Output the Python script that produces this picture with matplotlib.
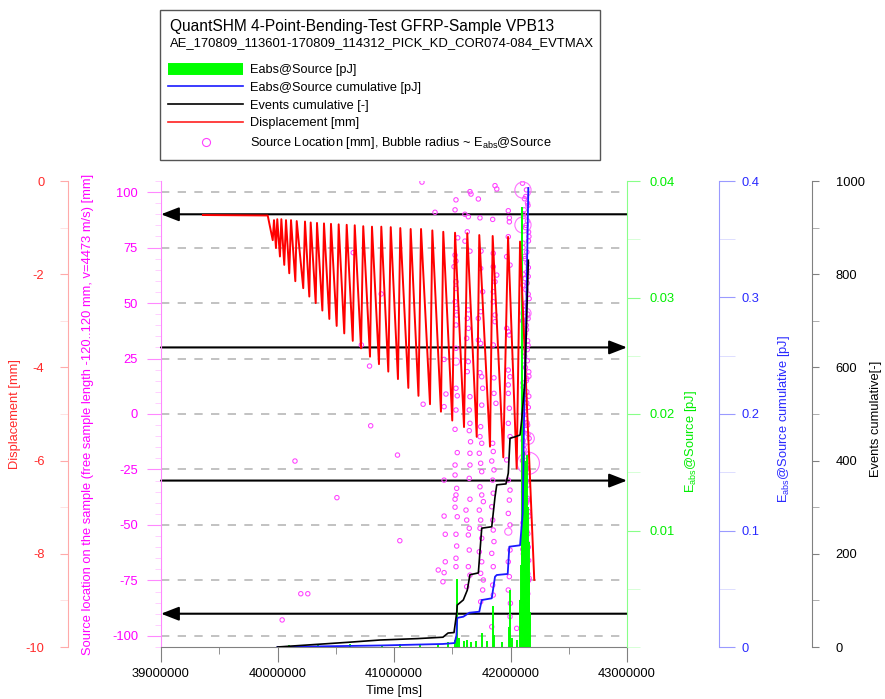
import numpy as np
import matplotlib
matplotlib.use("Agg")
import matplotlib.pyplot as plt
from matplotlib.lines import Line2D
from matplotlib.patches import Rectangle
from matplotlib.ticker import MultipleLocator, FormatStrFormatter, FuncFormatter

plt.rcParams["font.family"] = ["Liberation Sans", "DejaVu Sans"]
plt.rcParams["mathtext.fontset"] = "custom"
plt.rcParams["mathtext.rm"] = "Liberation Sans"
plt.rcParams["mathtext.it"] = "Liberation Sans:italic"
plt.rcParams["axes.unicode_minus"] = False

# --- data (time in 1e6 ms) ---
# displacement [mm], sawtooth load cycles
disp_t = [39.360, 39.916,
          39.959, 39.970, 39.987, 39.998, 40.021, 40.033, 40.058, 40.073, 40.101, 40.116,
          40.153, 40.165, 40.221, 40.236, 40.273, 40.285, 40.328, 40.339, 40.385, 40.399,
          40.445, 40.459, 40.508, 40.525, 40.573, 40.594, 40.646, 40.663, 40.717, 40.736,
          40.794, 40.811, 40.871, 40.891, 40.951, 40.972, 41.034, 41.054, 41.123, 41.143,
          41.210, 41.232, 41.309, 41.329, 41.403, 41.423, 41.500, 41.524, 41.601, 41.629,
          41.710, 41.732, 41.824, 41.847, 41.938, 41.979, 42.053, 42.082,
          42.204]
disp_mm = [-0.73, -0.74,
           -1.27, -0.84, -1.44, -0.82, -1.62, -0.82, -1.80, -0.84, -1.98, -0.84,
           -2.15, -0.86, -2.30, -0.87, -2.48, -0.89, -2.62, -0.90, -2.78, -0.91,
           -2.96, -0.92, -3.11, -0.93, -3.27, -0.94, -3.43, -0.95, -3.59, -0.97,
           -3.77, -0.98, -3.93, -0.98, -4.09, -0.99, -4.25, -1.01, -4.44, -1.03,
           -4.61, -1.03, -4.79, -1.06, -4.95, -1.09, -5.14, -1.11, -5.28, -1.12,
           -5.49, -1.16, -5.70, -1.18, -5.93, -1.20, -6.17, -1.30,
           -8.56]

# events cumulative [-]
ev_t = [40.00, 40.30, 40.60, 40.88, 41.20, 41.42, 41.464, 41.515, 41.538, 41.543,
        41.595, 41.629, 41.652, 41.724, 41.753, 41.839, 41.867, 41.882, 41.961, 41.981,
        41.996, 42.039, 42.082, 42.096, 42.124, 42.153]
ev_n = [0, 5, 10, 15, 18, 21, 30, 31, 73, 90,
        101, 122, 155, 159, 255, 258, 322, 348, 350, 373,
        448, 451, 455, 487, 573, 830]

# Eabs@Source cumulative [pJ]
ecum_t = [40.00, 40.88, 41.42, 41.52, 41.536, 41.543, 41.595, 41.646, 41.732, 41.753,
          41.839, 41.867, 41.882, 41.976, 41.990, 42.082, 42.105, 42.116, 42.133, 42.153]
ecum_pj = [0.0, 0.0013, 0.0026, 0.0034, 0.010, 0.025, 0.026, 0.0294, 0.0303, 0.0403,
           0.0418, 0.0603, 0.0618, 0.0627, 0.0861, 0.0873, 0.115, 0.195, 0.272, 0.394]

# Eabs@Source per event [pJ]
eabs_t = [40.10, 40.35, 40.62, 40.90, 41.05, 41.22, 41.38, 41.46, 41.52, 41.537,
          41.545, 41.56, 41.60, 41.63, 41.66, 41.70, 41.753, 41.80, 41.85, 41.86,
          41.93, 41.985, 41.996, 42.01, 42.06, 42.085, 42.092, 42.098, 42.103, 42.108,
          42.112, 42.118, 42.122, 42.127, 42.131, 42.136, 42.141, 42.146, 42.150, 42.155,
          42.160, 42.165]
eabs_pj = [0.0002, 0.0002, 0.0003, 0.0002, 0.0003, 0.0002, 0.0003, 0.0004, 0.0006, 0.0058,
           0.0012, 0.0008, 0.0005, 0.0006, 0.0004, 0.0005, 0.0012, 0.0005, 0.0035, 0.0010,
           0.0004, 0.0017, 0.0049, 0.0008, 0.0006, 0.0040, 0.0070, 0.0110, 0.0378, 0.0095,
           0.0150, 0.0167, 0.0120, 0.0160, 0.0100, 0.0140, 0.0165, 0.0085, 0.0120, 0.0060,
           0.0090, 0.0030]

# source locations [mm] (small bubbles)
src_t = [41.24, 41.352, 40.65, 40.89, 40.72, 40.79, 40.80, 40.15, 41.03, 41.43,
         41.446, 41.25, 41.43, 41.43, 40.51, 41.05, 41.43, 41.44, 41.44, 41.38,
         41.43, 41.42, 40.20, 40.26, 40.04,
         41.532, 41.524, 41.524, 41.532, 41.515, 41.532, 41.532, 41.524, 41.538, 41.538,
         41.532, 41.532, 41.532, 41.543, 41.532, 41.524, 41.543, 41.524, 41.524,
         41.538, 41.532, 41.524, 41.524, 41.543, 41.532, 41.538, 41.532, 41.532, 41.547,
         41.652, 41.661, 41.609, 41.638, 41.629, 41.609, 41.652, 41.638, 41.629, 41.638,
         41.624, 41.638, 41.629, 41.652, 41.646, 41.652, 41.646, 41.657, 41.652, 41.652,
         41.646, 41.652, 41.618, 41.624, 41.646, 41.638, 41.646, 41.638, 41.652, 41.624,
         41.724, 41.738, 41.747, 41.744, 41.761, 41.744, 41.724, 41.724, 41.744, 41.738,
         41.753, 41.761, 41.753, 41.744, 41.738, 41.753, 41.732, 41.744, 41.753, 41.738,
         41.753, 41.767, 41.732, 41.744, 41.738, 41.753, 41.732, 41.753, 41.744, 41.767,
         41.761, 41.744,
         41.867, 41.882, 41.847, 41.852, 41.852, 41.882, 41.867, 41.852, 41.852, 41.867,
         41.867, 41.852, 41.858, 41.858, 41.875, 41.847, 41.852, 41.839, 41.858, 41.847,
         41.852, 41.839, 41.847, 41.852, 41.858, 41.839, 41.852, 41.847, 41.852, 41.839,
         41.981, 41.990, 41.990, 41.981, 41.967, 41.996, 41.981, 41.990, 41.967, 41.981,
         41.996, 41.981, 41.981, 41.990, 41.981, 41.996, 41.967, 41.981, 41.996, 41.990,
         41.981, 41.996, 41.996, 41.981, 41.990, 41.981, 41.999, 41.996, 42.053,
         42.103, 42.137, 42.120, 42.150, 42.112, 42.145, 42.128, 42.158, 42.107, 42.140,
         42.124, 42.153, 42.110, 42.143, 42.132, 42.160, 42.116, 42.148, 42.103, 42.137,
         42.120, 42.150, 42.112, 42.145, 42.128, 42.158, 42.107, 42.140, 42.124, 42.153,
         42.110, 42.143, 42.132, 42.160, 42.116, 42.148, 42.103, 42.137, 42.120, 42.150,
         42.112, 42.145, 42.128, 42.158, 42.107, 42.140, 42.124, 42.153, 42.110, 42.143,
         42.132, 42.160, 42.116, 42.148, 42.103, 42.137, 42.120, 42.150, 42.112, 42.145,
         42.131, 42.118, 42.155, 42.108, 42.141, 42.126, 42.152, 42.114, 42.135, 42.147,
         42.122, 42.157, 42.109, 42.139, 42.129, 42.150, 42.117, 42.144, 42.134, 42.121,
         42.156, 42.111, 42.142, 42.127, 42.149, 42.115, 42.138, 42.125,
         42.146, 42.113, 42.133, 42.154, 42.119, 42.141, 42.106, 42.130, 42.151, 42.124,
         42.144, 42.115, 42.136, 42.157, 42.121, 42.147, 42.109, 42.132, 42.153, 42.127,
         42.139, 42.118, 42.149, 42.105, 42.134, 42.155, 42.123, 42.143, 42.112, 42.131,
         42.152, 42.119, 42.140, 42.108, 42.136, 42.146, 42.125, 42.156, 42.114, 42.133]
src_loc = [104.5, 90.9, 72.7, 54.1, 31.1, 21.6, -5.3, -21.2, -18.5, 24.6,
           9.0, 4.4, 3.3, -29.8, -37.7, -57.1, -46.0, -54.2, -66.6, -70.3,
           -71.5, -75.6, -81.0, -81.0, -92.8,
           96.5, 92.0, 71.6, 68.9, 66.4, 59.6, 56.6, 50.6, 47.6, 44.6,
           40.1, 29.6, 11.6, 8.2, 1.8, -6.9, -17.4, -23.0, -27.5,
           -33.5, -36.5, -38.4, -42.0, -46.3, -54.2, -59.5, -65.0, -68.8, 79.4,
           100.2, 99.1, 90.0, 88.9, 82.1, 77.9, 73.4, 46.9, 43.1, 38.6,
           34.1, 23.6, 19.1, 7.8, 1.8, -4.2, -7.5, -12.5, -17.7, -23.0,
           -29.0, -38.4, -43.3, -47.8, -51.5, -54.5, -61.3, -68.8, -72.6, -77.8,
           96.9, 88.4, 73.4, 65.6, 55.1, 46.1, 43.1, 33.3, 31.8, 18.6,
           16.8, 11.6, 4.0, -5.7, -10.2, -13.2, -17.7, -22.2, -26.0, -32.8,
           -36.5, -39.5, -43.3, -47.8, -51.5, -56.0, -62.1, -66.6, -71.8, -74.8,
           -79.3, -84.6,
           102.9, 101.4, 87.7, 72.4, 66.4, 62.6, 59.6, 55.1, 50.6, 44.6,
           41.6, 31.1, 16.3, 9.3, 4.8, -13.2, -16.9, -21.2, -25.2, -29.8,
           -35.7, -41.8, -47.8, -52.3, -57.5, -62.8, -68.8, -77.1, -81.6, -95.9,
           91.6, 88.4, 86.6, 79.9, 70.9, 67.1, 37.1, 35.6, 38.6, 19.8,
           16.8, 13.1, 9.3, 2.6, -4.2, -10.2, -20.7, -29.8, -34.3, -38.8,
           -44.8, -50.0, -61.3, -66.6, -73.3, -79.3, -85.3, -91.3, -96.6,
           104, 101, 97, 94, 90, 87, 84, 80, 77, 73,
           70, 66, 63, 59, 56, 52, 49, 45, 42, 38,
           35, 31, 28, 24, 21, 17, 14, 10, 7, 3,
           0, -4, -7, -11, -14, -18, -21, -25, -28, -32,
           -35, -39, -42, -46, -49, -53, -56, -60, -63, -67,
           -70, -74, -77, -81, -84, -88, -91, -95, -98, -101,
           98, 92, 82, 75, 68, 61, 54, 47, 40, 33,
           26, 19, 12, 5, -2, -9, -16, -23, -30, -37,
           -44, -51, -58, -65, -72, -79, -86, -93,
           95, 89, 85, 78, 71, 64, 58, 50, 43, 36,
           29, 22, 15, 8, 1, -5, -12, -19, -26, -33,
           -40, -47, -54, -61, -68, -75, -82, -89, -96, -99,
           62, 44, 16, -8, -24, -38, -52, -66, -80, -94]

# source locations of high-energy events (bubble radius ~ Eabs)
big_t = [42.107, 42.107, 42.133, 42.153, 42.153, 41.532, 41.981]
big_loc = [100.9, 85.2, 45.4, -11.0, -22.2, 23.6, -53.0]
big_pj = [0.027, 0.027, 0.017, 0.020, 0.037, 0.012, 0.012]

# sensor positions [mm] and arrow direction
sensor_loc = [90, 30, -30, -90]
sensor_dir = [-1, 1, 1, -1]

grid_loc = [100, 75, 50, 25, 0, -25, -50, -75, -100]

# --- figure ---
W, H = 885, 699
fig = plt.figure(figsize=(W / 100, H / 100), dpi=100)
x0, x1, ytop, ybot = 161, 627, 181, 647
ax = fig.add_axes([x0 / W, 1 - ybot / H, (x1 - x0) / W, (ybot - ytop) / H])


def axpos(px):
    return (px - x0) / (x1 - x0)


ax_green = ax.twinx()
ax_red = ax.twinx()
ax_blue = ax.twinx()
ax_black = ax.twinx()
for a in (ax, ax_green, ax_red, ax_blue, ax_black):
    for sp in a.spines.values():
        sp.set_visible(False)

fs = 9.3
t_scale = 1e6

# main: source location
ax.set_xlim(39e6, 43e6)
ax.set_ylim(-105, 105)
for g in grid_loc:
    ax.axhline(g, color="#b8b8b8", lw=1.2, ls=(0, (5, 5)), zorder=0)
for loc, d in zip(sensor_loc, sensor_dir):
    xs, xe = (43e6, 39e6) if d < 0 else (39e6, 43e6)
    ax.annotate("", xy=(xe, loc), xytext=(xs, loc),
                arrowprops=dict(arrowstyle="-|>,head_length=0.9,head_width=0.35",
                                color="black", lw=1.5, mutation_scale=12,
                                shrinkA=0, shrinkB=0), zorder=2)

r_small = 2.2 * 0.72
ax.scatter(np.array(src_t) * t_scale, src_loc, s=(2 * r_small) ** 2,
           facecolors="none", edgecolors="#ff40ff", linewidths=0.75, zorder=3)
big_r = np.array(big_pj) * 300 * 0.72
ax.scatter(np.array(big_t) * t_scale, big_loc, s=(2 * big_r) ** 2,
           facecolors="none", edgecolors="#ff70ff", linewidths=0.8, zorder=3)

ax.spines["left"].set_visible(True)
ax.spines["left"].set_color("#ff88ff")
ax.spines["bottom"].set_visible(True)
ax.spines["bottom"].set_color("#808080")
ax.yaxis.set_major_locator(MultipleLocator(25))
ax.yaxis.set_minor_locator(MultipleLocator(5))
ax.tick_params(axis="y", which="major", length=10, color="#ff88ff", labelcolor="#ff00ff",
               labelsize=fs, pad=6.5)
ax.tick_params(axis="y", which="minor", length=4, color="#ffc8ff")
ax.xaxis.set_major_locator(MultipleLocator(1e6))
ax.xaxis.set_minor_locator(MultipleLocator(5e5))
ax.xaxis.set_major_formatter(FormatStrFormatter("%d"))
ax.tick_params(axis="x", which="major", length=11, color="#808080", labelsize=fs, pad=4)
ax.tick_params(axis="x", which="minor", length=5, color="#808080")
ax.set_xlabel("Time [ms]", fontsize=fs, labelpad=4)
ax.set_ylabel("Source location on the sample (free sample length -120..120 mm, v=4473 m/s) [mm]",
              color="#ff00ff", fontsize=fs)
ax.yaxis.set_label_coords(axpos(94), 0.5)

fmt_g = FuncFormatter(lambda v, _: f"{v:g}")

# green: Eabs@Source
ax_green.vlines(np.array(eabs_t) * t_scale, 0, eabs_pj, color="#00ff00", lw=1.4)
ax_green.set_ylim(0, 0.04)
ax_green.spines["right"].set_visible(True)
ax_green.spines["right"].set_color("#88ff88")
ax_green.set_yticks([0.01, 0.02, 0.03, 0.04])
ax_green.yaxis.set_minor_locator(MultipleLocator(0.005))
ax_green.yaxis.set_major_formatter(fmt_g)
ax_green.tick_params(axis="y", which="major", length=9.5, color="#88ff88", labelcolor="#00ee00",
                     labelsize=fs, pad=6.5)
ax_green.tick_params(axis="y", which="minor", length=9.5, color="#d0ffd0")
ax_green.set_ylabel("E$_{\\rm abs}$@Source [pJ]", color="#00ee00", fontsize=fs)
ax_green.yaxis.set_label_coords(axpos(683), 0.44)

# red: displacement
ax_red.plot(np.array(disp_t) * t_scale, disp_mm, color="#ff0000", lw=1.4)
ax_red.set_ylim(-10, 0)
ax_red.yaxis.tick_left()
ax_red.yaxis.set_label_position("left")
ax_red.spines["left"].set_visible(True)
ax_red.spines["left"].set_position(("axes", axpos(68)))
ax_red.spines["left"].set_color("#ffaaaa")
ax_red.yaxis.set_major_locator(MultipleLocator(2))
ax_red.yaxis.set_minor_locator(MultipleLocator(1))
ax_red.tick_params(axis="y", which="major", length=6, color="#ffaaaa", labelcolor="#ff2a2a",
                   labelsize=fs, pad=11)
ax_red.tick_params(axis="y", which="minor", length=6, color="#ffdddd")
ax_red.set_ylabel("Displacement [mm]", color="#ff2a2a", fontsize=fs)
ax_red.yaxis.set_label_coords(axpos(21), 0.5)

# blue: Eabs cumulative
ax_blue.plot(np.array(ecum_t) * t_scale, ecum_pj, color="#1a1aff", lw=1.3)
ax_blue.set_ylim(0, 0.4)
ax_blue.spines["right"].set_visible(True)
ax_blue.spines["right"].set_position(("axes", axpos(719)))
ax_blue.spines["right"].set_color("#9a9aff")
ax_blue.yaxis.set_major_locator(MultipleLocator(0.1))
ax_blue.yaxis.set_minor_locator(MultipleLocator(0.05))
ax_blue.yaxis.set_major_formatter(fmt_g)
ax_blue.tick_params(axis="y", which="major", length=11.5, color="#9a9aff", labelcolor="#2a2aff",
                    labelsize=fs, pad=5)
ax_blue.tick_params(axis="y", which="minor", length=11.5, color="#d8d8ff")
ax_blue.set_ylabel("E$_{\\rm abs}$@Source cumulative [pJ]", color="#2a2aff", fontsize=fs)
ax_blue.yaxis.set_label_coords(axpos(776), 0.49)

# black: events cumulative
ax_black.plot(np.array(ev_t) * t_scale, ev_n, color="black", lw=1.2)
ax_black.set_ylim(0, 1000)
ax_black.spines["right"].set_visible(True)
ax_black.spines["right"].set_position(("axes", axpos(812)))
ax_black.spines["right"].set_color("#808080")
ax_black.yaxis.set_major_locator(MultipleLocator(200))
ax_black.yaxis.set_minor_locator(MultipleLocator(100))
ax_black.tick_params(axis="y", which="major", length=5, color="#808080", labelsize=fs, pad=12)
ax_black.tick_params(axis="y", which="minor", length=5, color="#a0a0a0")
ax_black.set_ylabel("Events cumulative[-]", fontsize=fs)
ax_black.yaxis.set_label_coords(axpos(870), 0.49)

# legend box
fig.add_artist(Rectangle((160 / W, 1 - 160 / H), 440 / W, 150 / H, transform=fig.transFigure,
                         fill=False, ec="#555555", lw=1.0))
fig.text(170 / W, 1 - 26 / H, "QuantSHM 4-Point-Bending-Test GFRP-Sample VPB13",
         fontsize=11.2, va="center", ha="left")
fig.text(170 / W, 1 - 43 / H, "AE_170809_113601-170809_114312_PICK_KD_COR074-084_EVTMAX",
         fontsize=9.35, va="center", ha="left")

handles = [
    Line2D([], [], color="#00ff00", lw=8.6, solid_capstyle="butt"),
    Line2D([], [], color="#1a1aff", lw=1.2),
    Line2D([], [], color="black", lw=1.2),
    Line2D([], [], color="#ff2020", lw=1.2),
    Line2D([], [], ls="none", marker="o", ms=5.8, mfc="none", mec="#ff40ff", mew=0.8),
]
labels = ["Eabs@Source [pJ]", "Eabs@Source cumulative [pJ]", "Events cumulative [-]",
          "Displacement [mm]", "Source Location [mm], Bubble radius ~ E$_{\\rm abs}$@Source"]
fig.legend(handles, labels, loc="upper left", bbox_to_anchor=(168 / W, 1 - 64 / H),
           frameon=False, fontsize=9.2, handlelength=5.9, handletextpad=0.5,
           labelspacing=0.45, borderpad=0, borderaxespad=0)

fig.savefig("out.png", dpi=100)
